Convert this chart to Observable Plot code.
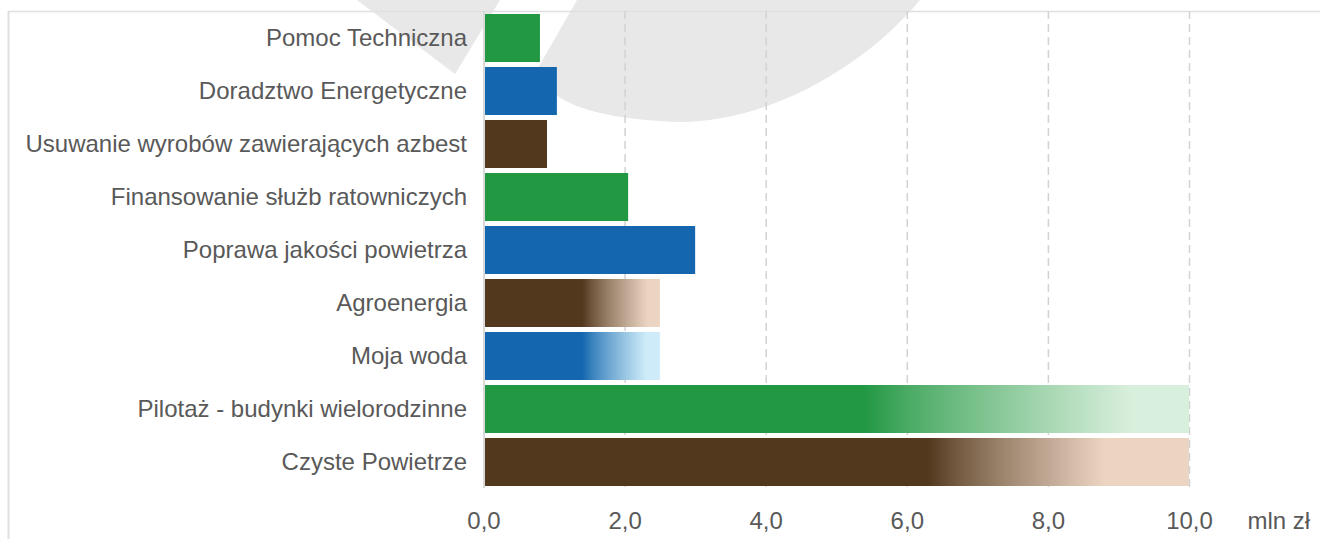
<!DOCTYPE html>
<html>
<head>
<meta charset="utf-8">
<script src="https://cdn.jsdelivr.net/npm/d3@7"></script>
<script src="https://cdn.jsdelivr.net/npm/@observablehq/plot@0.6"></script>
<style>
  html, body { margin: 0; padding: 0; background: #ffffff; }
  #wrap { position: relative; width: 1320px; height: 539px; overflow: hidden; font-family: "Liberation Sans", Arial, sans-serif; }
  #bg, #chart svg { position: absolute; left: 0; top: 0; }
</style>
</head>
<body>
<div id="wrap">
  <svg id="bg" width="1320" height="539" xmlns="http://www.w3.org/2000/svg">
    <defs id="grads"></defs>
    <path d="M357,0 L500,0 L455,74 Z" fill="#e8e8e8"/>
    <path d="M577,0 L538,68 C545,102 592,119 680,122 C765,122 862,70 920,0 Z" fill="#e8e8e8"/>
    <line x1="8" y1="11.5" x2="1320" y2="11.5" stroke="#e0e0e0" stroke-width="1.5"/>
    <line x1="8.5" y1="11" x2="8.5" y2="539" stroke="#e0e0e0" stroke-width="2"/>
  </svg>
  <div id="chart"></div>
</div>
<script>
// ---- data ----
const categories = [
  "Pomoc Techniczna",
  "Doradztwo Energetyczne",
  "Usuwanie wyrobów zawierających azbest",
  "Finansowanie służb ratowniczych",
  "Poprawa jakości powietrza",
  "Agroenergia",
  "Moja woda",
  "Pilotaż - budynki wielorodzinne",
  "Czyste Powietrze"
];
const values = [0.8, 1.04, 0.9, 2.05, 3.0, 2.5, 2.5, 10.0, 10.0];
const colorGroup = ["green", "blue", "brown", "green", "blue", "brown", "blue", "green", "brown"];
// fraction of the bar where the colour starts fading / has fully faded (null = solid)
const fadeFrom = [null, null, null, null, null, 0.56, 0.56, 0.54, 0.63];
const fadeTo   = [null, null, null, null, null, 0.93, 0.92, 0.92, 0.88];
const xTicks = [0, 2, 4, 6, 8, 10];
const unitLabel = "mln zł";

// ---- styles ----
const solid = {green: "#239843", blue: "#1467af", brown: "#52381d"};
const light = {green: "#d9efdd", blue: "#cdebf8", brown: "#ebd5c2"};

// gradients
const defs = d3.select("#grads");
const data = categories.map((name, i) => {
  let fill = solid[colorGroup[i]];
  if (fadeFrom[i] != null) {
    const id = "fade" + i;
    const g = defs.append("linearGradient").attr("id", id)
      .attr("x1", "0").attr("y1", "0").attr("x2", "1").attr("y2", "0");
    const c0 = d3.color(solid[colorGroup[i]]), c1 = d3.color(light[colorGroup[i]]);
    const interp = d3.interpolateRgb(c0, c1);
    g.append("stop").attr("offset", 0).attr("stop-color", c0.formatHex());
    g.append("stop").attr("offset", fadeFrom[i]).attr("stop-color", c0.formatHex());
    const n = 6;
    for (let k = 1; k < n; k++) {
      const t = k / n;
      const off = fadeFrom[i] + (fadeTo[i] - fadeFrom[i]) * t;
      g.append("stop").attr("offset", off).attr("stop-color", interp(Math.pow(t, 0.85)));
    }
    g.append("stop").attr("offset", fadeTo[i]).attr("stop-color", c1.formatHex());
    g.append("stop").attr("offset", 1).attr("stop-color", c1.formatHex());
    fill = `url(#${id})`;
  }
  return {name, value: values[i], fill};
});

const fmt = d => d.toFixed(1).replace(".", ",");

const chart = Plot.plot({
  width: 1320,
  height: 539,
  marginLeft: 483.5,
  marginRight: 131,
  marginTop: 11,
  marginBottom: 51,
  style: {
    background: "transparent",
    fontFamily: "'Liberation Sans', Arial, sans-serif",
    fontSize: "24px",
    color: "#595959",
    overflow: "visible"
  },
  x: {domain: [0, 10]},
  y: {domain: categories, paddingInner: 0.1, paddingOuter: 0.05},
  color: {type: "identity"},
  marks: [
    Plot.gridX(xTicks.filter(d => d > 0), {stroke: "#d2d2d2", strokeOpacity: 1, strokeWidth: 1.5, strokeDasharray: "8,5"}),
    Plot.barX(data, {x: "value", y: "name", fill: "fill"}),
    Plot.ruleX([0], {stroke: "#d9d9d9", strokeWidth: 2}),
    Plot.axisY({tickSize: 0, tickPadding: 17, fontSize: 24, label: null, fill: "#595959"}),
    Plot.axisX({ticks: xTicks, tickFormat: fmt, tickSize: 0, tickPadding: 23, fontSize: 24, label: null, fill: "#595959"}),
    Plot.text([unitLabel], {frameAnchor: "bottom-right", dx: 58, dy: 23, lineAnchor: "top", textAnchor: "start", fontSize: 24, fill: "#595959"})
  ]
});
document.getElementById("chart").appendChild(chart);
</script>
</body>
</html>
